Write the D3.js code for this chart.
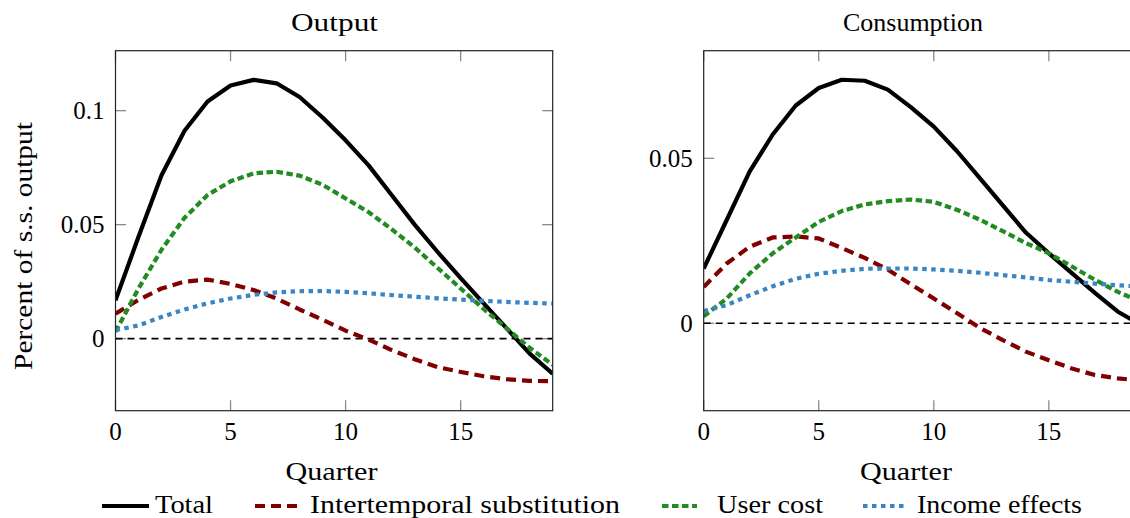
<!DOCTYPE html>
<html>
<head>
<meta charset="utf-8">
<script src="https://cdn.jsdelivr.net/npm/d3@7"></script>
<style>
  html, body { margin: 0; padding: 0; background: #fff; overflow: hidden; }
  svg { display: block; }
  text { font-family: "Liberation Serif", "DejaVu Serif", serif; fill: #000; }
</style>
</head>
<body>
<svg id="chart" width="1130" height="518"></svg>
<script>
// ---------------- data ----------------
const quarters = d3.range(0, 20);

const outputTotal          = [0.0168, 0.0447, 0.0717, 0.0912, 0.1040, 0.1110, 0.1135, 0.1120, 0.1060, 0.0970, 0.0870, 0.0760, 0.0630, 0.0500, 0.0380, 0.0265, 0.0155, 0.0045, -0.0066, -0.0154];
const outputIntertemporal  = [0.0110, 0.0170, 0.0220, 0.0250, 0.0259, 0.0240, 0.0213, 0.0176, 0.0128, 0.0083, 0.0035, -0.0004, -0.0050, -0.0090, -0.0125, -0.0146, -0.0165, -0.0178, -0.0185, -0.0187];
const outputUserCost       = [0.0030, 0.0220, 0.0390, 0.0530, 0.0630, 0.0690, 0.0725, 0.0732, 0.0715, 0.0675, 0.0615, 0.0555, 0.0480, 0.0400, 0.0310, 0.0220, 0.0130, 0.0045, -0.0040, -0.0115];
const outputIncome         = [0.0037, 0.0058, 0.0095, 0.0128, 0.0155, 0.0176, 0.0192, 0.0203, 0.0208, 0.0209, 0.0205, 0.0199, 0.0191, 0.0184, 0.0177, 0.0171, 0.0166, 0.0161, 0.0157, 0.0154];

const consTotal            = [0.0166, 0.0313, 0.0460, 0.0572, 0.0660, 0.0713, 0.0738, 0.0735, 0.0708, 0.0655, 0.0596, 0.0522, 0.0440, 0.0357, 0.0275, 0.0212, 0.0152, 0.0092, 0.0035, -0.0005];
const consIntertemporal    = [0.0110, 0.0181, 0.0232, 0.0260, 0.0263, 0.0257, 0.0228, 0.0198, 0.0163, 0.0118, 0.0075, 0.0031, -0.0014, -0.0051, -0.0086, -0.0112, -0.0137, -0.0157, -0.0167, -0.0174];
const consUserCost         = [0.0021, 0.0075, 0.0151, 0.0212, 0.0260, 0.0307, 0.0340, 0.0360, 0.0370, 0.0375, 0.0368, 0.0344, 0.0314, 0.0279, 0.0243, 0.0212, 0.0172, 0.0132, 0.0095, 0.0065];
const consIncome           = [0.0037, 0.0055, 0.0085, 0.0112, 0.0135, 0.0150, 0.0159, 0.0165, 0.0166, 0.0166, 0.0163, 0.0159, 0.0153, 0.0146, 0.0139, 0.0131, 0.0126, 0.0120, 0.0115, 0.0111];

const seriesNames   = ["Total", "Intertemporal substitution", "User cost", "Income effects"];
const xTicks        = [0, 5, 10, 15];
const outputYTicks  = [0, 0.05, 0.1];
const consYTicks    = [0, 0.05];
const panelTitles   = ["Output", "Consumption"];
const xLabel        = "Quarter";
const yLabel        = "Percent of s.s. output";

// ---------------- styles ----------------
const styles = [
  { color: "#000000", dash: null,      width: 4.2 },
  { color: "#800000", dash: "10,6",    width: 4.2 },
  { color: "#228b22", dash: "6.5,3.5", width: 4.2 },
  { color: "#3a86c4", dash: "4.5,4.5", width: 4.2 }
];

const svg = d3.select("#chart");
svg.append("rect").attr("width", 1130).attr("height", 518).attr("fill", "#fff");

const plotTop = 50.7, plotBottom = 410.7;

const panels = [
  { left: 115.5, right: 552.7, yDomain: [-0.0316, 0.1263], yTicks: outputYTicks,
    series: [outputTotal, outputIntertemporal, outputUserCost, outputIncome],
    title: panelTitles[0], titleX: 334.5, titleLen: 87, xLabX: 331.5 },
  { left: 703.7, right: 1140.9, yDomain: [-0.0265, 0.0826], yTicks: consYTicks,
    series: [consTotal, consIntertemporal, consUserCost, consIncome],
    title: panelTitles[1], titleX: 913, titleLen: 140, xLabX: 906 }
];

const fmt = d => (d === 0 ? "0" : String(d));

panels.forEach((p, i) => {
  const x = d3.scaleLinear().domain([0, 19]).range([p.left, p.right]);
  const y = d3.scaleLinear().domain(p.yDomain).range([plotBottom, plotTop]);
  const g = svg.append("g");

  const clipId = "clip" + i;
  svg.append("clipPath").attr("id", clipId)
    .append("rect").attr("x", p.left).attr("y", plotTop)
    .attr("width", p.right - p.left).attr("height", plotBottom - plotTop);

  // ticks (inside, all four sides), gray
  const tickLen = 10.5;
  const tg = g.append("g").attr("stroke", "#8a8a8a").attr("stroke-width", 1.3);
  xTicks.forEach(t => {
    tg.append("line").attr("x1", x(t)).attr("x2", x(t)).attr("y1", plotBottom).attr("y2", plotBottom - tickLen);
    tg.append("line").attr("x1", x(t)).attr("x2", x(t)).attr("y1", plotTop).attr("y2", plotTop + tickLen);
  });
  p.yTicks.forEach(t => {
    tg.append("line").attr("x1", p.left).attr("x2", p.left + tickLen).attr("y1", y(t)).attr("y2", y(t));
    tg.append("line").attr("x1", p.right).attr("x2", p.right - tickLen).attr("y1", y(t)).attr("y2", y(t));
  });

  // tick labels
  xTicks.forEach(t => {
    g.append("text").attr("x", x(t)).attr("y", 440).attr("text-anchor", "middle")
      .attr("font-size", 25).text(fmt(t));
  });
  p.yTicks.forEach(t => {
    g.append("text").attr("x", p.left - 11).attr("y", y(t) + 8.5).attr("text-anchor", "end")
      .attr("font-size", 25).text(fmt(t));
  });

  // zero line
  g.append("line").attr("x1", p.left).attr("x2", p.right).attr("y1", y(0)).attr("y2", y(0))
    .attr("stroke", "#000").attr("stroke-width", 1.6).attr("stroke-dasharray", "7,5");

  // series lines
  const line = d3.line().x((d, k) => x(quarters[k])).y(d => y(d)).curve(d3.curveLinear);
  const lg = g.append("g").attr("clip-path", `url(#${clipId})`);
  [0, 1, 2, 3].forEach(s => {
    const st = styles[s];
    lg.append("path").datum(p.series[s]).attr("d", line)
      .attr("fill", "none").attr("stroke", st.color).attr("stroke-width", st.width)
      .attr("stroke-linejoin", "round")
      .attr("stroke-dasharray", st.dash);
  });

  // frame
  g.append("rect").attr("x", p.left).attr("y", plotTop)
    .attr("width", p.right - p.left).attr("height", plotBottom - plotTop)
    .attr("fill", "none").attr("stroke", "#222").attr("stroke-width", 1.2);

  // title
  g.append("text").attr("x", p.titleX).attr("y", 31).attr("text-anchor", "middle")
    .attr("font-size", 26).attr("textLength", p.titleLen).attr("lengthAdjust", "spacingAndGlyphs")
    .text(p.title);

  // x label
  g.append("text").attr("x", p.xLabX).attr("y", 480).attr("text-anchor", "middle")
    .attr("font-size", 26).attr("textLength", 92).attr("lengthAdjust", "spacingAndGlyphs")
    .text(xLabel);
});

// y label (left panel only)
svg.append("text").attr("transform", "translate(31.5,246) rotate(-90)")
  .attr("text-anchor", "middle").attr("font-size", 26)
  .attr("textLength", 248).attr("lengthAdjust", "spacingAndGlyphs")
  .text(yLabel);

// legend
const legendItems = [
  { s: 0, x1: 102, x2: 149, tx: 155, tl: 58 },
  { s: 1, x1: 255, x2: 297, tx: 310, tl: 310 },
  { s: 2, x1: 662, x2: 697, tx: 717, tl: 106 },
  { s: 3, x1: 863, x2: 907, tx: 917, tl: 165 }
];
const lgd = svg.append("g");
legendItems.forEach(it => {
  const st = styles[it.s];
  lgd.append("line").attr("x1", it.x1).attr("x2", it.x2).attr("y1", 506).attr("y2", 506)
    .attr("stroke", st.color).attr("stroke-width", st.width).attr("stroke-dasharray", st.dash);
  lgd.append("text").attr("x", it.tx).attr("y", 513).attr("font-size", 26)
    .attr("textLength", it.tl).attr("lengthAdjust", "spacingAndGlyphs")
    .text(seriesNames[it.s]);
});
</script>
</body>
</html>
